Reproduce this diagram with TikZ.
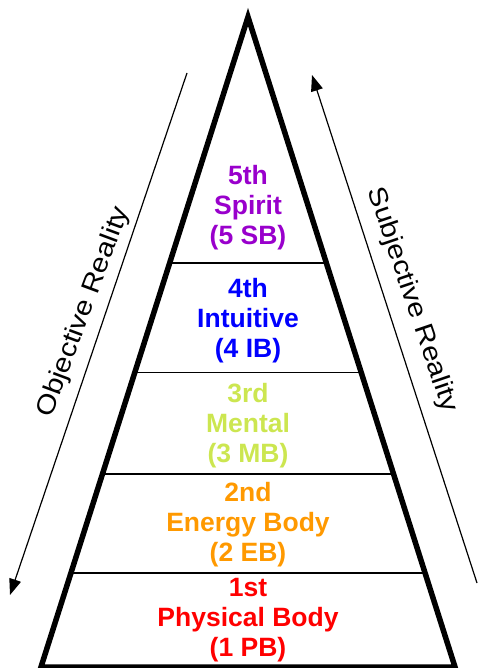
\documentclass[tikz,border=0pt]{standalone}
\usepackage{fontspec}
\setmainfont{Liberation Sans}
\usepackage{tikz}
\usetikzlibrary{arrows.meta, calc}
\definecolor{spiritpurple}{RGB}{153, 0, 204}
\definecolor{intuitblue}{RGB}{0, 0, 255}
\definecolor{mentalgreen}{RGB}{204, 230, 80}
\definecolor{energyorange}{RGB}{255, 153, 0}
\definecolor{physred}{RGB}{255, 0, 0}

\begin{document}
\begin{tikzpicture}[x=1pt, y=-1pt,
  layerlabel/.style={align=center, font=\fontsize{26.5}{30}\selectfont\bfseries, inner sep=0pt},
  realitylabel/.style={font=\fontsize{26}{30}\selectfont, inner sep=0pt, xscale=1.14},
  divider/.style={line width=1.5pt},
  flowarrow/.style={-{Triangle[length=16pt, width=12pt]}, line width=1.2pt}
]
  \useasboundingbox (0,0) rectangle (478,668);

  % Pyramid
  \coordinate (apex) at (248, 17);
  \coordinate (bl) at (41, 667);
  \coordinate (br) at (455, 667);
  \draw[line width=5.5pt, line join=miter] (apex) -- (bl) -- (br) -- cycle;

  % Dividers
  \foreach \t in {0.3785, 0.547, 0.703, 0.855}
    \draw[divider] ($(apex)!\t!(bl)$) -- ($(apex)!\t!(br)$);

  % Layers
  \node[layerlabel, spiritpurple] (spirit) at (248, 208) {5th\\Spirit\\(5 SB)};
  \node[layerlabel, intuitblue] (intuitive) at (248, 321) {4th\\Intuitive\\(4 IB)};
  \node[layerlabel, mentalgreen] (mental) at (248, 426) {3rd\\Mental\\(3 MB)};
  \node[layerlabel, energyorange] (energy) at (248, 525) {2nd\\Energy Body\\(2 EB)};
  \node[layerlabel, physred] (physical) at (248, 620) {1st\\Physical Body\\(1 PB)};

  % Side arrows
  \coordinate (objtop) at (187, 73);
  \coordinate (objbot) at (10, 595);
  \draw[flowarrow] (objtop) -- (objbot);
  \coordinate (subbot) at (477, 583);
  \coordinate (subtop) at (312, 75);
  \draw[flowarrow] (subbot) -- (subtop);

  \node[rotate=69.6, realitylabel] (objective) at (84, 312) {Objective Reality};
  \node[rotate=-71.2, realitylabel] (subjective) at (412, 300) {Subjective Reality};
\end{tikzpicture}
\end{document}
